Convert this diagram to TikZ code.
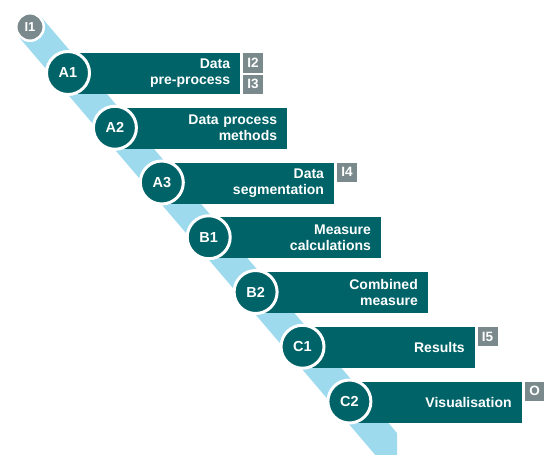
\documentclass[tikz,border=0pt]{standalone}
\usepackage{fontspec}
\setmainfont{Liberation Sans}
\definecolor{teal}{RGB}{0,99,104}
\definecolor{band}{RGB}{158,218,238}
\definecolor{greybox}{RGB}{122,138,140}
\tikzset{
  bar/.style={fill=teal, draw=none, minimum width=172pt, minimum height=41pt,
    text width=152pt, inner xsep=10pt, inner ysep=0pt, align=right, text=white,
    font=\bfseries\fontsize{14}{16}\selectfont, anchor=west},
  stepcirc/.style={circle, fill=teal, draw=white, line width=3pt, minimum size=43pt,
    inner sep=0pt, text=white, font=\bfseries\fontsize{14.5}{16}\selectfont},
  iocirc/.style={circle, fill=greybox, draw=white, line width=2.5pt, minimum size=27.5pt,
    inner sep=0pt, text=white, font=\bfseries\fontsize{13}{15}\selectfont},
  iobox/.style={fill=greybox, draw=none, minimum width=20pt, minimum height=19.5pt,
    inner sep=0pt, text=white, font=\bfseries\fontsize{13.5}{15}\selectfont, anchor=north west}
}
\begin{document}
\begin{tikzpicture}[x=1pt,y=-1pt]
\useasboundingbox (0,0) rectangle (544,455);
\begin{scope}
\clip (0,0) rectangle (544,455);
% light blue band
\fill[band] (30+11.4,27-9.75) -- (397,433) -- (397,470)
  -- (18.6+0.649*570,36.75+0.761*570) -- (18.6,36.75) -- cycle;
\end{scope}
\foreach \i/\n/\t in {0/A1/{Data\\pre-process},1/A2/{Data process\\methods},2/A3/{Data\\segmentation},
  3/B1/{Measure\\calculations},4/B2/{Combined\\measure},5/C1/{Results},6/C2/{Visualisation}}{
  \node[bar] (b\n) at ({68+46.9*\i},{73.5+54.75*\i}) {\t};
}
\foreach \i/\n in {0/A1,1/A2,2/A3,3/B1,4/B2,5/C1,6/C2}{
  \node[stepcirc] (c\n) at ({68+46.9*\i},{73+54.75*\i}) {\n};
}
\node[iocirc] (I1) at (30,27) {I1};
\node[iobox] (I2) at ([xshift=2.5pt]bA1.north east) {I2};
\node[iobox] (I3) at ([xshift=2.5pt,yshift=-21.5pt]bA1.north east) {I3};
\node[iobox] (I4) at ([xshift=2.5pt]bA3.north east) {I4};
\node[iobox] (I5) at ([xshift=2.5pt]bC1.north east) {I5};
\node[iobox] (O) at ([xshift=2.5pt]bC2.north east) {O};
\end{tikzpicture}
\end{document}
